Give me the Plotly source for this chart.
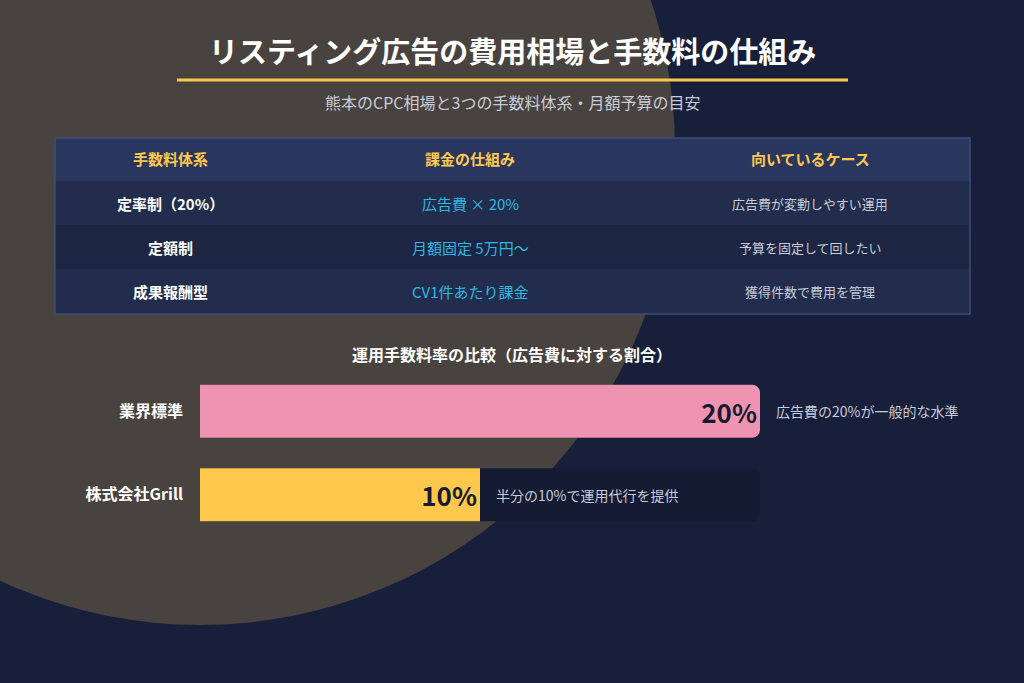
import plotly.graph_objects as go

W, H = 1024, 683
headers = ["手数料体系", "課金の仕組み", "向いているケース"]
col1 = ["定率制（20%）", "定額制", "成果報酬型"]
col2 = ["広告費 × 20%", "月額固定 5万円〜", "CV1件あたり課金"]
col3 = ["広告費が変動しやすい運用", "予算を固定して回したい", "獲得件数で費用を管理"]
bar_labels = ["業界標準", "株式会社Grill"]
bar_values = [20, 10]
bar_notes = ["広告費の20%が一般的な水準", "半分の10%で運用代行を提供"]
bar_colors = ["#ef93b2", "#fec84d"]

F = "Noto Sans CJK JP"
def px(x): return x / W
def py(y): return 1 - y / H

shapes, ann = [], []
def A(x, y, text, size, color, **kw):
    d = dict(x=px(x), y=py(y), text=text, showarrow=False, xref="paper", yref="paper",
             xanchor="center", yanchor="middle", font=dict(size=size, color=color, family=F))
    d.update(kw)
    ann.append(d)

shapes.append(dict(type="circle", xref="paper", yref="paper", x0=px(-275), x1=px(675),
                   y0=py(625), y1=py(-325), fillcolor="#48433f", line_width=0, layer="below"))
A(512, 50, "<b>リスティング広告の費用相場と手数料の仕組み</b>", 29, "white")
shapes.append(dict(type="line", xref="paper", yref="paper", x0=px(177), x1=px(848), y0=py(80), y1=py(80),
                   line=dict(color="#fec84d", width=3)))
A(512, 102, "熊本のCPC相場と3つの手数料体系・月額予算の目安", 16, "#c8ccd8")
tx0, tx1 = 55, 970
rows_y = [(138, 181), (181, 225), (225, 269), (269, 314)]
fills = ["#29365e", "#222d4d", "#1c2542", "#222d4d"]
for (a, b), c in zip(rows_y, fills):
    shapes.append(dict(type="rect", xref="paper", yref="paper", x0=px(tx0), x1=px(tx1), y0=py(b), y1=py(a),
                       fillcolor=c, line_width=0))
shapes.append(dict(type="rect", xref="paper", yref="paper", x0=px(tx0), x1=px(tx1), y0=py(314), y1=py(138),
                   line=dict(color="#3e4c78", width=1.5)))
cx = [170, 470, 810]
for i, h in enumerate(headers):
    A(cx[i], 159, f"<b>{h}</b>", 15, "#fec84d")
for r in range(3):
    yc = (rows_y[r+1][0] + rows_y[r+1][1]) / 2
    A(cx[0], yc, f"<b>{col1[r]}</b>", 15, "white")
    A(cx[1], yc, col2[r], 15, "#2eb8e0")
    A(cx[2], yc, col3[r], 13, "#c8ccd8")
A(512, 354, "<b>運用手数料率の比較（広告費に対する割合）</b>", 16, "white")

fig = go.Figure()
fig.add_trace(go.Bar(y=bar_labels, x=[max(bar_values)] * 2, orientation="h",
                     marker=dict(color="#141b33", cornerradius=8, line_width=0), width=0.635, hoverinfo="skip"))
fig.add_trace(go.Bar(y=bar_labels, x=bar_values, orientation="h",
                     marker=dict(color=bar_colors, cornerradius=8, line_width=0),
                     width=0.635, text=[f"<b>{v}%</b>" for v in bar_values], textposition="inside",
                     insidetextanchor="end", textfont=dict(size=26, color="#161a2e", family=F)))
for lab, v, n in zip(bar_labels, bar_values, bar_notes):
    ann.append(dict(x=v, y=lab, xref="x", yref="y", text=n, showarrow=False, xanchor="left", xshift=14,
                    font=dict(size=14, color="#c8ccd8", family=F)))
fig.update_layout(width=W, height=H, margin=dict(l=0, r=0, t=0, b=0), paper_bgcolor="#171f3b",
                  plot_bgcolor="rgba(0,0,0,0)", barmode="overlay", showlegend=False, shapes=shapes, annotations=ann,
                  xaxis=dict(domain=[px(200), px(760)], range=[0, 20], visible=False),
                  yaxis=dict(domain=[py(536.5), py(369.5)], autorange="reversed", showgrid=False, zeroline=False,
                             tickfont=dict(size=16, color="white", family=F), ticklabelstandoff=16,
                             tickvals=bar_labels, ticktext=[f"<b>{l}</b>" for l in bar_labels]))
fig.write_html("out.html", config={"displayModeBar": False}, post_script="document.body.style.margin='0';")
